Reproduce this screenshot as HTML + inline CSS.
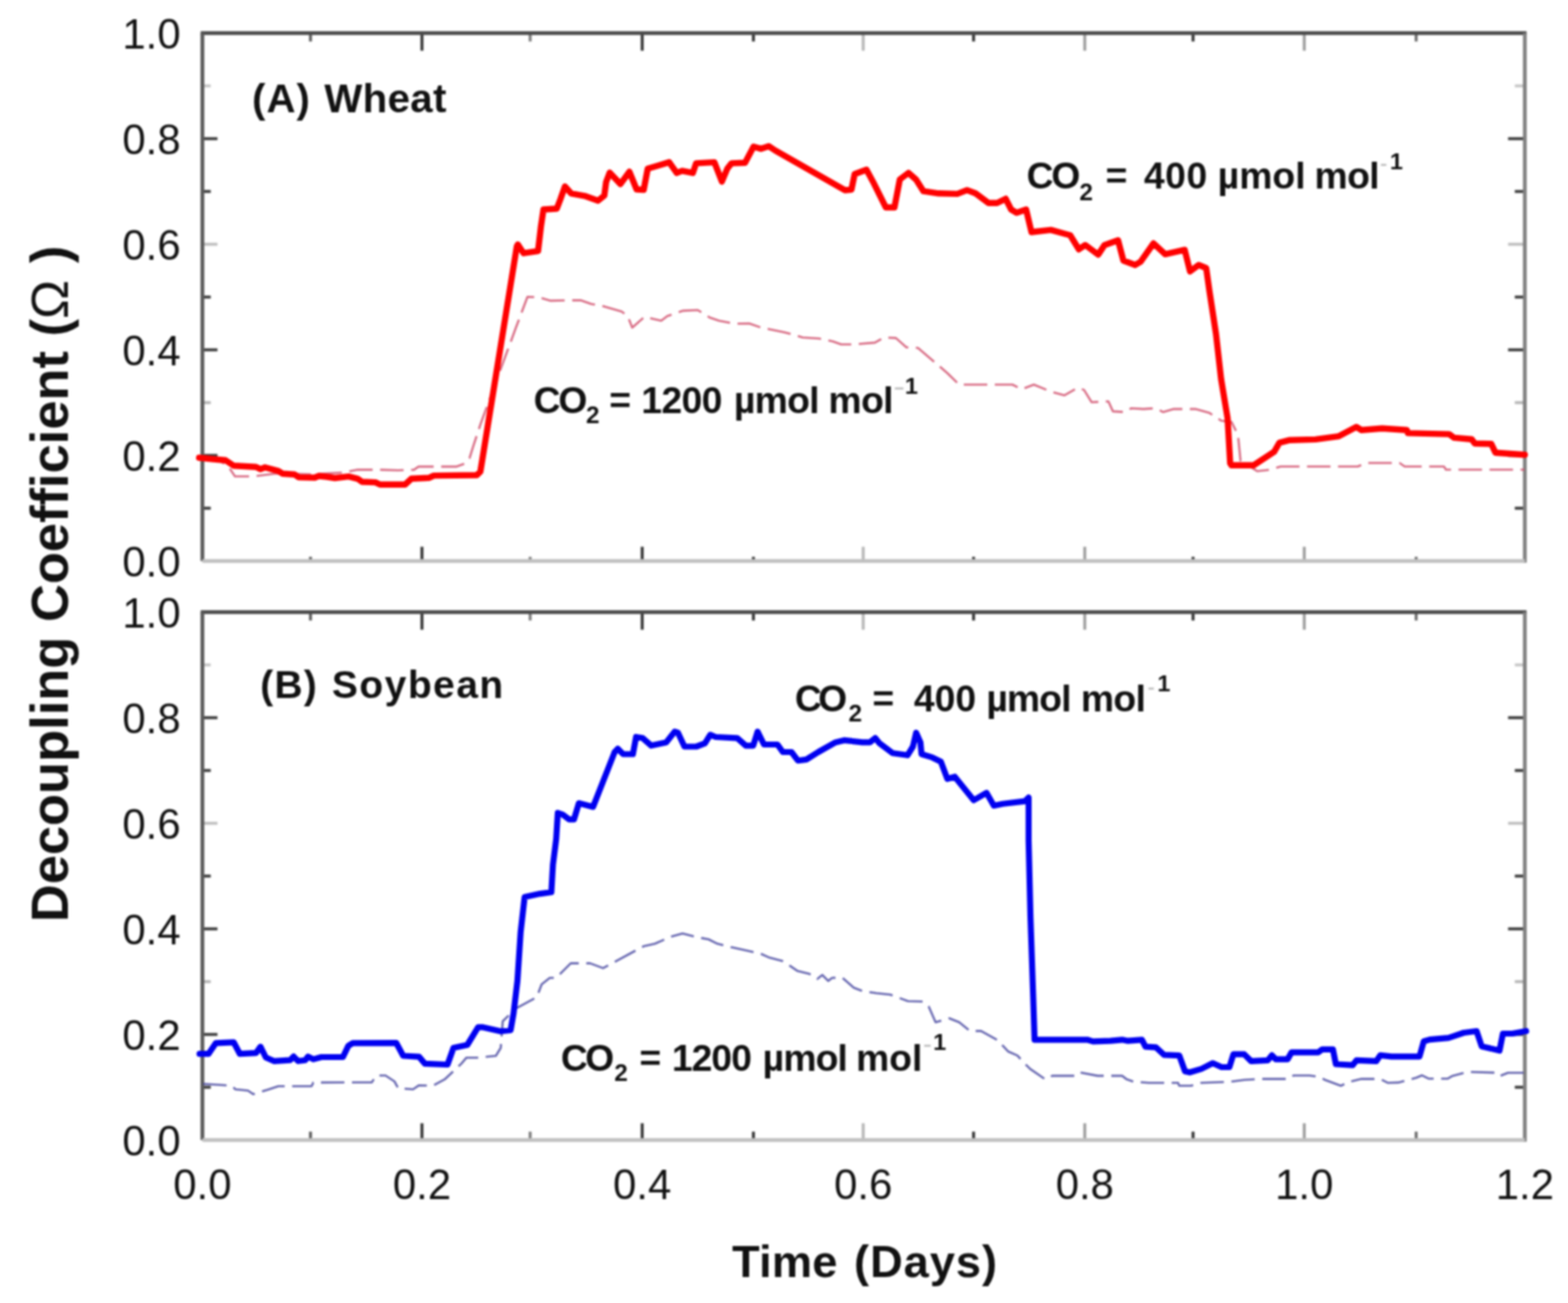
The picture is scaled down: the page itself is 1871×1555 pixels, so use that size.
<!DOCTYPE html>
<html><head><meta charset="utf-8"><title>Decoupling Coefficient</title>
<style>html,body{margin:0;padding:0;background:#fff;}svg{display:block;}#w{filter:blur(1px);}</style></head>
<body><div id="w"><svg width="1871" height="1555" viewBox="0 0 1871 1555" font-family="'Liberation Sans', Arial, Helvetica, sans-serif" fill="#111">
<rect width="1871" height="1555" fill="#fff"/>
<line x1="370.5" y1="669.5" x2="370.5" y2="664.5" stroke="#606060" stroke-width="3.6"/>
<line x1="370.5" y1="39.5" x2="370.5" y2="49.5" stroke="#606060" stroke-width="3.6"/>
<line x1="503.5" y1="669.5" x2="503.5" y2="652.5" stroke="#383838" stroke-width="3.6"/>
<line x1="503.5" y1="39.5" x2="503.5" y2="60.5" stroke="#383838" stroke-width="3.6"/>
<line x1="632.6" y1="669.5" x2="632.6" y2="664.5" stroke="#808080" stroke-width="3.6"/>
<line x1="632.6" y1="39.5" x2="632.6" y2="49.5" stroke="#808080" stroke-width="3.6"/>
<line x1="766.3" y1="669.5" x2="766.3" y2="652.5" stroke="#383838" stroke-width="3.6"/>
<line x1="766.3" y1="39.5" x2="766.3" y2="60.5" stroke="#383838" stroke-width="3.6"/>
<line x1="899.0" y1="669.5" x2="899.0" y2="664.5" stroke="#383838" stroke-width="3.6"/>
<line x1="899.0" y1="39.5" x2="899.0" y2="49.5" stroke="#383838" stroke-width="3.6"/>
<line x1="1030.0" y1="669.5" x2="1030.0" y2="652.5" stroke="#b8b8b8" stroke-width="3.6"/>
<line x1="1030.0" y1="39.5" x2="1030.0" y2="60.5" stroke="#b8b8b8" stroke-width="3.6"/>
<line x1="1161.7" y1="669.5" x2="1161.7" y2="664.5" stroke="#383838" stroke-width="3.6"/>
<line x1="1161.7" y1="39.5" x2="1161.7" y2="49.5" stroke="#383838" stroke-width="3.6"/>
<line x1="1294.4" y1="669.5" x2="1294.4" y2="652.5" stroke="#a0a0a0" stroke-width="3.6"/>
<line x1="1294.4" y1="39.5" x2="1294.4" y2="60.5" stroke="#a0a0a0" stroke-width="3.6"/>
<line x1="1423.6" y1="669.5" x2="1423.6" y2="664.5" stroke="#383838" stroke-width="3.6"/>
<line x1="1423.6" y1="39.5" x2="1423.6" y2="49.5" stroke="#383838" stroke-width="3.6"/>
<line x1="1556.3" y1="669.5" x2="1556.3" y2="652.5" stroke="#a0a0a0" stroke-width="3.6"/>
<line x1="1556.3" y1="39.5" x2="1556.3" y2="60.5" stroke="#a0a0a0" stroke-width="3.6"/>
<line x1="1689.8" y1="669.5" x2="1689.8" y2="664.5" stroke="#707070" stroke-width="3.6"/>
<line x1="1689.8" y1="39.5" x2="1689.8" y2="49.5" stroke="#707070" stroke-width="3.6"/>
<line x1="241.5" y1="606.5" x2="251.5" y2="606.5" stroke="#404040" stroke-width="3.6"/>
<line x1="1819.5" y1="606.5" x2="1807.5" y2="606.5" stroke="#404040" stroke-width="3.6"/>
<line x1="241.5" y1="543.5" x2="259.5" y2="543.5" stroke="#404040" stroke-width="3.6"/>
<line x1="1819.5" y1="543.5" x2="1799.5" y2="543.5" stroke="#404040" stroke-width="3.6"/>
<line x1="241.5" y1="480.5" x2="251.5" y2="480.5" stroke="#b8b8b8" stroke-width="3.6"/>
<line x1="1819.5" y1="480.5" x2="1807.5" y2="480.5" stroke="#b8b8b8" stroke-width="3.6"/>
<line x1="241.5" y1="417.5" x2="259.5" y2="417.5" stroke="#404040" stroke-width="3.6"/>
<line x1="1819.5" y1="417.5" x2="1799.5" y2="417.5" stroke="#404040" stroke-width="3.6"/>
<line x1="241.5" y1="354.5" x2="251.5" y2="354.5" stroke="#404040" stroke-width="3.6"/>
<line x1="1819.5" y1="354.5" x2="1807.5" y2="354.5" stroke="#404040" stroke-width="3.6"/>
<line x1="241.5" y1="291.5" x2="259.5" y2="291.5" stroke="#c0c0c0" stroke-width="3.6"/>
<line x1="1819.5" y1="291.5" x2="1799.5" y2="291.5" stroke="#c0c0c0" stroke-width="3.6"/>
<line x1="241.5" y1="228.5" x2="251.5" y2="228.5" stroke="#404040" stroke-width="3.6"/>
<line x1="1819.5" y1="228.5" x2="1807.5" y2="228.5" stroke="#404040" stroke-width="3.6"/>
<line x1="241.5" y1="165.5" x2="259.5" y2="165.5" stroke="#404040" stroke-width="3.6"/>
<line x1="1819.5" y1="165.5" x2="1799.5" y2="165.5" stroke="#404040" stroke-width="3.6"/>
<line x1="241.5" y1="102.5" x2="251.5" y2="102.5" stroke="#c8c8c8" stroke-width="3.6"/>
<line x1="1819.5" y1="102.5" x2="1807.5" y2="102.5" stroke="#c8c8c8" stroke-width="3.6"/>
<line x1="239.5" y1="39.5" x2="1821.5" y2="39.5" stroke="#4a4a4a" stroke-width="4.5"/>
<line x1="241.5" y1="39.5" x2="241.5" y2="669.5" stroke="#5a5a5a" stroke-width="4.5"/>
<line x1="1819.5" y1="39.5" x2="1819.5" y2="671.5" stroke="#808080" stroke-width="4.5"/>
<line x1="241.5" y1="669.5" x2="1819.5" y2="669.5" stroke="#c0c0c0" stroke-width="4.5"/>
<text x="215.5" y="687.5" text-anchor="end" font-size="50">0.0</text>
<text x="215.5" y="561.5" text-anchor="end" font-size="50">0.2</text>
<text x="215.5" y="435.5" text-anchor="end" font-size="50">0.4</text>
<text x="215.5" y="309.5" text-anchor="end" font-size="50">0.6</text>
<text x="215.5" y="183.5" text-anchor="end" font-size="50">0.8</text>
<text x="215.5" y="57.5" text-anchor="end" font-size="50">1.0</text>
<line x1="370.5" y1="1360.5" x2="370.5" y2="1350.5" stroke="#606060" stroke-width="3.6"/>
<line x1="370.5" y1="730.5" x2="370.5" y2="740.5" stroke="#606060" stroke-width="3.6"/>
<line x1="503.5" y1="1360.5" x2="503.5" y2="1340.5" stroke="#383838" stroke-width="3.6"/>
<line x1="503.5" y1="730.5" x2="503.5" y2="751.5" stroke="#383838" stroke-width="3.6"/>
<line x1="632.6" y1="1360.5" x2="632.6" y2="1350.5" stroke="#808080" stroke-width="3.6"/>
<line x1="632.6" y1="730.5" x2="632.6" y2="740.5" stroke="#808080" stroke-width="3.6"/>
<line x1="766.3" y1="1360.5" x2="766.3" y2="1340.5" stroke="#383838" stroke-width="3.6"/>
<line x1="766.3" y1="730.5" x2="766.3" y2="751.5" stroke="#383838" stroke-width="3.6"/>
<line x1="899.0" y1="1360.5" x2="899.0" y2="1350.5" stroke="#383838" stroke-width="3.6"/>
<line x1="899.0" y1="730.5" x2="899.0" y2="740.5" stroke="#383838" stroke-width="3.6"/>
<line x1="1030.0" y1="1360.5" x2="1030.0" y2="1340.5" stroke="#b8b8b8" stroke-width="3.6"/>
<line x1="1030.0" y1="730.5" x2="1030.0" y2="751.5" stroke="#b8b8b8" stroke-width="3.6"/>
<line x1="1161.7" y1="1360.5" x2="1161.7" y2="1350.5" stroke="#383838" stroke-width="3.6"/>
<line x1="1161.7" y1="730.5" x2="1161.7" y2="740.5" stroke="#383838" stroke-width="3.6"/>
<line x1="1294.4" y1="1360.5" x2="1294.4" y2="1340.5" stroke="#a0a0a0" stroke-width="3.6"/>
<line x1="1294.4" y1="730.5" x2="1294.4" y2="751.5" stroke="#a0a0a0" stroke-width="3.6"/>
<line x1="1423.6" y1="1360.5" x2="1423.6" y2="1350.5" stroke="#383838" stroke-width="3.6"/>
<line x1="1423.6" y1="730.5" x2="1423.6" y2="740.5" stroke="#383838" stroke-width="3.6"/>
<line x1="1556.3" y1="1360.5" x2="1556.3" y2="1340.5" stroke="#a0a0a0" stroke-width="3.6"/>
<line x1="1556.3" y1="730.5" x2="1556.3" y2="751.5" stroke="#a0a0a0" stroke-width="3.6"/>
<line x1="1689.8" y1="1360.5" x2="1689.8" y2="1350.5" stroke="#707070" stroke-width="3.6"/>
<line x1="1689.8" y1="730.5" x2="1689.8" y2="740.5" stroke="#707070" stroke-width="3.6"/>
<line x1="241.5" y1="1297.5" x2="251.5" y2="1297.5" stroke="#404040" stroke-width="3.6"/>
<line x1="1819.5" y1="1297.5" x2="1807.5" y2="1297.5" stroke="#404040" stroke-width="3.6"/>
<line x1="241.5" y1="1234.5" x2="259.5" y2="1234.5" stroke="#404040" stroke-width="3.6"/>
<line x1="1819.5" y1="1234.5" x2="1799.5" y2="1234.5" stroke="#404040" stroke-width="3.6"/>
<line x1="241.5" y1="1171.5" x2="251.5" y2="1171.5" stroke="#b8b8b8" stroke-width="3.6"/>
<line x1="1819.5" y1="1171.5" x2="1807.5" y2="1171.5" stroke="#b8b8b8" stroke-width="3.6"/>
<line x1="241.5" y1="1108.5" x2="259.5" y2="1108.5" stroke="#404040" stroke-width="3.6"/>
<line x1="1819.5" y1="1108.5" x2="1799.5" y2="1108.5" stroke="#404040" stroke-width="3.6"/>
<line x1="241.5" y1="1045.5" x2="251.5" y2="1045.5" stroke="#404040" stroke-width="3.6"/>
<line x1="1819.5" y1="1045.5" x2="1807.5" y2="1045.5" stroke="#404040" stroke-width="3.6"/>
<line x1="241.5" y1="982.5" x2="259.5" y2="982.5" stroke="#c0c0c0" stroke-width="3.6"/>
<line x1="1819.5" y1="982.5" x2="1799.5" y2="982.5" stroke="#c0c0c0" stroke-width="3.6"/>
<line x1="241.5" y1="919.5" x2="251.5" y2="919.5" stroke="#404040" stroke-width="3.6"/>
<line x1="1819.5" y1="919.5" x2="1807.5" y2="919.5" stroke="#404040" stroke-width="3.6"/>
<line x1="241.5" y1="856.5" x2="259.5" y2="856.5" stroke="#404040" stroke-width="3.6"/>
<line x1="1819.5" y1="856.5" x2="1799.5" y2="856.5" stroke="#404040" stroke-width="3.6"/>
<line x1="241.5" y1="793.5" x2="251.5" y2="793.5" stroke="#c8c8c8" stroke-width="3.6"/>
<line x1="1819.5" y1="793.5" x2="1807.5" y2="793.5" stroke="#c8c8c8" stroke-width="3.6"/>
<line x1="239.5" y1="730.5" x2="1821.5" y2="730.5" stroke="#4a4a4a" stroke-width="4.5"/>
<line x1="241.5" y1="730.5" x2="241.5" y2="1360.5" stroke="#5a5a5a" stroke-width="4.5"/>
<line x1="1819.5" y1="730.5" x2="1819.5" y2="1362.5" stroke="#808080" stroke-width="4.5"/>
<line x1="241.5" y1="1360.5" x2="1819.5" y2="1360.5" stroke="#c0c0c0" stroke-width="4.5"/>
<text x="215.5" y="1378.5" text-anchor="end" font-size="50">0.0</text>
<text x="215.5" y="1252.5" text-anchor="end" font-size="50">0.2</text>
<text x="215.5" y="1126.5" text-anchor="end" font-size="50">0.4</text>
<text x="215.5" y="1000.5" text-anchor="end" font-size="50">0.6</text>
<text x="215.5" y="874.5" text-anchor="end" font-size="50">0.8</text>
<text x="215.5" y="748.5" text-anchor="end" font-size="50">1.0</text>
<text x="241.5" y="1430.5" text-anchor="middle" font-size="50">0.0</text>
<text x="503.5" y="1430.5" text-anchor="middle" font-size="50">0.2</text>
<text x="766.3" y="1430.5" text-anchor="middle" font-size="50">0.4</text>
<text x="1030.0" y="1430.5" text-anchor="middle" font-size="50">0.6</text>
<text x="1294.4" y="1430.5" text-anchor="middle" font-size="50">0.8</text>
<text x="1556.3" y="1430.5" text-anchor="middle" font-size="50">1.0</text>
<text x="1819.5" y="1430.5" text-anchor="middle" font-size="50">1.2</text>
<polyline points="241.5,545.0 257.0,547.0 272.0,556.0 280.4,568.5 302.3,568.5 330.0,565.0 370.0,566.0 410.7,563.8 426.7,560.6 453.4,560.6 474.8,561.2 494.0,560.6 499.4,556.9 519.7,556.9 534.7,556.9 544.3,556.9 555.0,553.1 560.3,546.7 564.6,532.8 573.9,504.7 615.5,391.3 629.4,354.3 641.8,354.5 657.2,358.9 692.7,358.2 705.4,362.7 720.0,365.4 741.7,371.8 749.0,377.2 754.4,390.9 769.0,378.2 789.0,382.7 796.2,377.2 814.4,370.9 832.6,370.0 847.0,379.0 858.0,382.7 876.2,386.3 893.9,386.0 907.8,390.8 935.6,396.4 957.8,402.7 977.3,404.0 994.0,407.5 1003.7,411.0 1019.0,411.0 1044.0,408.9 1055.0,402.7 1069.0,403.4 1081.5,414.5 1095.4,415.2 1130.1,445.0 1144.5,459.0 1191.8,459.0 1208.1,459.0 1219.0,464.5 1233.6,459.0 1253.6,467.2 1270.0,471.8 1286.3,462.7 1293.5,465.4 1302.6,480.0 1322.6,479.0 1328.0,490.9 1342.6,491.8 1349.9,487.2 1364.4,488.1 1379.0,487.2 1388.0,491.8 1400.7,488.1 1426.2,488.1 1443.2,492.8 1457.1,502.0 1469.5,503.6 1477.2,519.0 1480.3,550.0 1500.4,562.3 1514.3,560.7 1528.1,556.8 1620.0,556.8 1630.0,552.5 1670.0,552.5 1676.2,556.8 1723.0,556.8 1725.4,560.5 1819.0,560.5" fill="none" stroke="#d04a68" stroke-width="2.6" stroke-dasharray="28 9" stroke-linejoin="round" opacity="0.8"/>
<polyline points="237.6,546.3 257.4,548.2 269.1,549.2 278.8,555.7 305.5,557.3 310.8,559.9 316.2,557.8 332.2,562.1 337.0,565.2 351.5,566.2 356.3,569.6 375.6,570.0 380.4,568.0 390.0,569.0 399.6,570.5 416.0,568.6 426.7,571.3 432.0,575.0 448.0,575.6 453.4,578.3 483.4,578.3 490.9,571.3 512.2,570.2 517.6,567.6 568.9,567.0 573.2,562.8 616.7,294.0 617.9,291.8 624.8,302.2 642.0,299.7 645.5,270.0 648.5,250.0 664.4,249.0 668.7,237.7 674.1,222.5 681.5,230.8 697.6,233.8 713.6,239.5 721.1,233.4 723.2,217.4 727.5,206.0 740.3,219.6 751.0,205.0 759.6,226.0 768.1,226.5 772.9,201.3 785.7,197.5 798.5,193.6 807.5,206.4 813.9,203.9 826.8,206.4 830.6,194.9 852.4,193.6 861.4,216.7 867.8,201.3 872.9,194.9 889.0,194.3 899.2,175.0 908.2,177.6 917.2,174.4 924.9,179.5 1008.3,227.0 1016.0,226.3 1019.8,207.7 1033.9,202.6 1041.6,216.7 1057.0,247.5 1067.3,247.5 1073.7,214.1 1084.0,206.4 1092.9,214.1 1101.9,228.2 1119.9,230.8 1142.3,231.4 1153.9,226.9 1164.1,230.8 1179.5,242.3 1189.8,242.3 1200.0,237.2 1206.5,250.0 1212.9,253.9 1224.4,250.0 1230.8,277.0 1253.9,274.4 1277.0,280.8 1287.3,297.5 1295.0,292.4 1310.4,303.9 1318.0,292.4 1334.1,286.7 1340.5,311.0 1354.6,316.2 1361.0,312.3 1376.4,290.5 1390.5,303.4 1413.6,298.2 1420.0,323.9 1430.3,316.2 1439.3,320.0 1443.1,347.0 1451.0,398.6 1457.1,452.6 1464.8,499.0 1467.9,553.0 1469.5,555.3 1495.7,555.3 1520.4,539.1 1526.6,528.3 1539.0,525.2 1569.8,524.4 1597.6,520.6 1618.4,509.5 1624.6,513.2 1649.2,511.3 1678.7,513.2 1679.9,516.9 1729.1,518.1 1735.2,522.4 1756.1,524.3 1759.8,529.2 1779.5,529.8 1784.4,540.2 1819.5,542.7" fill="none" stroke="#ff0000" stroke-width="7.4" stroke-linejoin="round" stroke-linecap="round"/>
<polyline points="242.4,1293.5 276.6,1295.7 280.9,1300.0 295.9,1301.5 302.3,1305.8 310.8,1303.2 319.4,1300.5 332.2,1296.2 348.2,1296.2 371.8,1296.2 373.9,1291.9 443.5,1291.7 449.4,1283.5 460.0,1283.5 470.6,1290.5 475.3,1298.8 492.9,1300.0 500.0,1295.2 516.4,1295.8 530.5,1288.2 550.5,1269.4 556.4,1262.3 569.3,1262.3 591.7,1260.0 597.5,1250.5 599.9,1218.8 615.4,1203.6 640.5,1190.1 646.3,1174.7 656.0,1167.0 663.7,1167.0 681.0,1149.6 704.2,1149.6 719.6,1155.4 767.9,1129.3 781.4,1126.3 800.6,1117.8 814.5,1114.1 830.6,1118.3 845.5,1121.0 856.2,1126.3 873.3,1130.6 891.5,1134.4 907.5,1138.1 917.1,1142.4 933.2,1146.7 941.7,1152.0 951.8,1158.8 965.9,1162.3 975.3,1168.2 981.2,1163.5 988.2,1170.6 992.9,1167.0 1004.7,1166.5 1018.8,1178.8 1029.4,1182.9 1045.8,1185.3 1062.3,1187.0 1083.4,1194.7 1101.1,1195.3 1108.1,1201.1 1116.4,1220.0 1132.8,1215.3 1144.6,1220.0 1157.5,1230.4 1170.6,1230.4 1190.3,1241.3 1202.8,1254.7 1213.9,1259.6 1222.2,1268.6 1229.2,1275.6 1247.2,1288.1 1255.6,1283.9 1283.4,1283.9 1288.9,1279.8 1309.8,1283.9 1339.0,1283.9 1344.5,1288.1 1352.9,1290.9 1370.9,1292.3 1405.7,1292.3 1407.1,1295.7 1421.0,1295.7 1433.5,1292.3 1465.9,1291.1 1484.7,1288.8 1503.5,1287.6 1537.6,1287.6 1543.5,1283.5 1562.3,1283.5 1575.2,1285.3 1581.1,1288.8 1590.5,1292.3 1599.9,1295.8 1609.3,1291.1 1624.6,1287.6 1646.9,1287.6 1656.3,1292.3 1668.4,1291.9 1689.8,1286.3 1696.9,1283.3 1705.0,1287.3 1727.3,1287.3 1732.4,1284.3 1751.7,1279.2 1784.2,1280.2 1789.3,1284.3 1799.4,1280.2 1819.0,1280.2" fill="none" stroke="#42429e" stroke-width="2.6" stroke-dasharray="28 9" stroke-linejoin="round" opacity="0.8"/>
<polyline points="238.1,1257.7 248.8,1257.7 257.4,1244.9 278.8,1243.8 286.2,1257.7 305.5,1256.7 310.8,1249.2 317.2,1262.0 326.9,1266.3 346.1,1265.2 350.4,1260.9 355.7,1266.3 364.3,1265.2 367.5,1260.9 373.9,1264.1 383.5,1261.5 409.2,1261.5 415.6,1248.1 420.9,1244.9 472.9,1244.7 481.1,1260.0 500.0,1261.1 507.0,1269.4 534.0,1270.5 541.1,1250.5 557.6,1247.0 570.5,1225.9 576.4,1225.9 596.4,1230.6 609.3,1229.4 612.8,1209.4 617.4,1170.8 621.2,1112.9 626.0,1070.5 644.4,1066.6 657.9,1064.7 659.8,1031.9 663.7,1001.0 665.6,970.2 671.4,972.1 679.1,977.9 684.9,977.9 690.7,958.6 707.7,962.9 733.4,897.5 737.2,893.6 743.6,900.0 755.2,900.0 759.0,879.5 766.7,880.8 777.0,889.8 794.9,885.9 805.2,873.1 809.0,874.4 816.7,891.0 830.8,891.0 841.1,887.2 847.5,876.9 853.9,879.5 879.6,880.8 889.8,889.8 898.8,889.8 904.0,873.1 911.6,888.5 927.7,888.5 934.1,897.5 944.4,897.5 952.1,907.7 962.3,906.4 976.4,897.5 997.0,885.9 1007.2,883.4 1029.0,885.9 1038.0,885.9 1044.4,880.8 1049.6,887.2 1064.9,898.7 1082.9,901.3 1089.3,891.0 1093.2,874.4 1098.3,885.9 1099.6,900.0 1112.4,903.9 1122.7,909.0 1130.4,929.5 1139.3,927.0 1161.9,955.0 1177.2,946.2 1185.9,961.5 1196.8,959.3 1223.1,956.1 1227.4,951.7 1227.4,1003.0 1229.6,1094.9 1232.9,1191.0 1234.5,1240.8 1297.3,1240.8 1304.2,1242.9 1325.1,1242.2 1339.0,1240.8 1345.9,1242.2 1362.6,1240.8 1366.8,1249.2 1379.3,1249.9 1389.0,1258.9 1407.1,1259.6 1414.0,1278.4 1419.6,1279.8 1433.5,1275.6 1447.1,1268.8 1457.6,1273.5 1467.0,1273.5 1471.7,1258.2 1484.7,1258.2 1492.9,1266.4 1512.9,1265.3 1517.6,1259.4 1522.3,1264.1 1536.4,1264.1 1541.1,1255.9 1572.9,1255.9 1577.6,1252.3 1590.5,1252.3 1594.0,1270.0 1614.0,1271.2 1618.7,1265.3 1642.2,1266.4 1646.9,1259.4 1660.3,1260.9 1693.8,1260.9 1698.9,1242.7 1706.0,1240.6 1728.4,1238.6 1746.6,1232.5 1761.9,1230.5 1768.0,1248.7 1789.3,1253.8 1793.3,1233.5 1804.5,1233.5 1821.0,1230.5" fill="none" stroke="#0000f0" stroke-width="7.2" stroke-linejoin="round" stroke-linecap="round"/>
<text x="873.6" y="1523.6" font-size="54" font-weight="bold" letter-spacing="0.17">Time</text>
<text x="1019.1" y="1523.6" font-size="54" font-weight="bold" letter-spacing="1.11">(Days)</text>
<text transform="translate(80.5,1100.5) rotate(-90)" font-size="62.6" font-weight="bold">Decoupling Coefficient (<tspan font-weight="normal">&#937;</tspan><tspan dx="20">)</tspan></text>
<text x="300.8" y="133.9" font-size="48" font-weight="bold" letter-spacing="1.19">(A)</text>
<text x="387.1" y="133.9" font-size="48" font-weight="bold" letter-spacing="0.40">Wheat</text>
<text x="310.5" y="832.9" font-size="46.5" font-weight="bold" letter-spacing="1.41">(B)</text>
<text x="396.1" y="832.9" font-size="46.5" font-weight="bold" letter-spacing="1.76">Soybean</text>
<text x="1224.9" y="225.0" font-size="44.5" font-weight="bold" letter-spacing="-2.59">CO</text>
<text x="1288.0" y="239.0" font-size="29" font-weight="bold">2</text>
<text x="1319.2" y="225.0" font-size="44.5" font-weight="bold">=</text>
<text x="1365.0" y="225.0" font-size="44.5" font-weight="bold" letter-spacing="0.58">400</text>
<text x="1453.1" y="225.0" font-size="44.5" font-weight="bold">&#181;mol</text>
<text x="1568.5" y="225.0" font-size="44.5" font-weight="bold" letter-spacing="-0.69">mol</text>
<rect x="1647.8" y="195.6" width="6.4" height="2.4" fill="#bbb"/>
<text x="1658.4" y="202.2" font-size="28" font-weight="bold">1</text>
<text x="636.7" y="492.5" font-size="44.5" font-weight="bold" letter-spacing="-2.59">CO</text>
<text x="699.2" y="504.5" font-size="29" font-weight="bold">2</text>
<text x="727.1" y="492.5" font-size="44.5" font-weight="bold">=</text>
<text x="765.3" y="492.5" font-size="44.5" font-weight="bold" letter-spacing="-0.75">1200</text>
<text x="875.7" y="492.5" font-size="44.5" font-weight="bold" letter-spacing="-0.85">&#181;mol</text>
<text x="988.5" y="492.5" font-size="44.5" font-weight="bold" letter-spacing="-0.69">mol</text>
<rect x="1067.8" y="462.4" width="10.2" height="2.4" fill="#bbb"/>
<text x="1079.7" y="469.6" font-size="28" font-weight="bold">1</text>
<text x="948.6" y="848.7" font-size="44.5" font-weight="bold" letter-spacing="-4.49">CO</text>
<text x="1012.4" y="861.0" font-size="29" font-weight="bold">2</text>
<text x="1041.0" y="848.7" font-size="44.5" font-weight="bold">=</text>
<text x="1090.6" y="848.7" font-size="44.5" font-weight="bold" letter-spacing="-0.07">400</text>
<text x="1176.9" y="848.7" font-size="44.5" font-weight="bold" letter-spacing="-1.02">&#181;mol</text>
<text x="1289.8" y="848.7" font-size="44.5" font-weight="bold" letter-spacing="-0.74">mol</text>
<rect x="1370.4" y="820.6" width="6.4" height="2.4" fill="#bbb"/>
<text x="1381.0" y="825.3" font-size="28" font-weight="bold">1</text>
<text x="669.3" y="1277.5" font-size="44.5" font-weight="bold" letter-spacing="-3.29">CO</text>
<text x="733.0" y="1289.5" font-size="29" font-weight="bold">2</text>
<text x="762.9" y="1277.5" font-size="44.5" font-weight="bold">=</text>
<text x="801.8" y="1277.5" font-size="44.5" font-weight="bold" letter-spacing="-1.21">1200</text>
<text x="910.0" y="1277.5" font-size="44.5" font-weight="bold" letter-spacing="-1.01">&#181;mol</text>
<text x="1021.6" y="1277.5" font-size="44.5" font-weight="bold" letter-spacing="-0.09">mol</text>
<rect x="1102.8" y="1246.8" width="7.7" height="2.4" fill="#bbb"/>
<text x="1113.4" y="1253.3" font-size="28" font-weight="bold">1</text>
</svg></div></body></html>
